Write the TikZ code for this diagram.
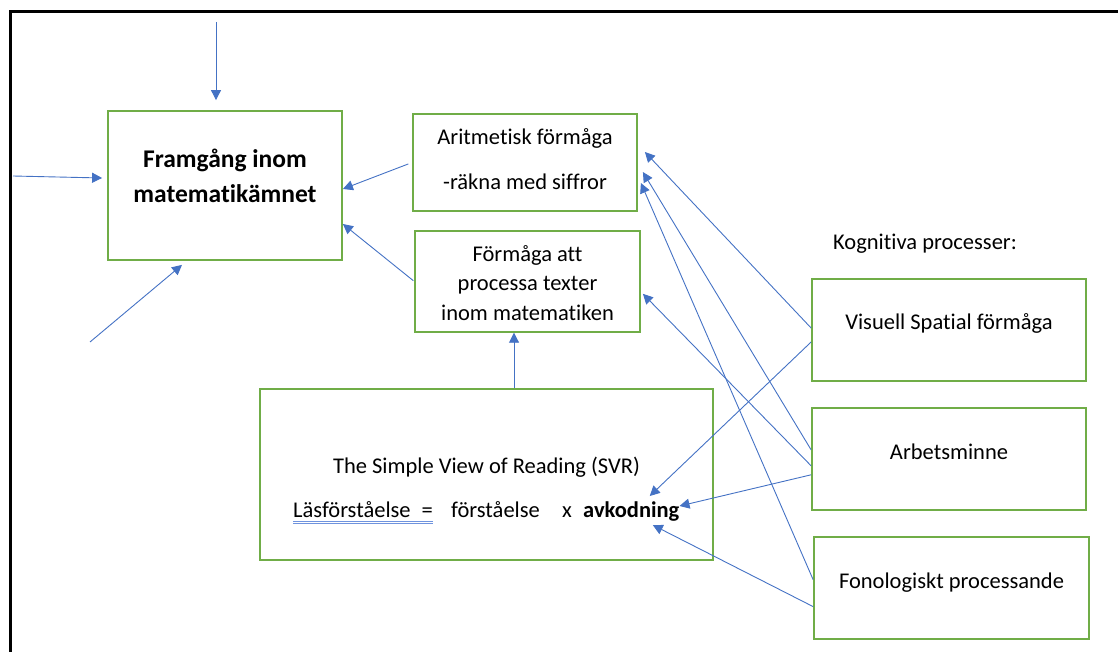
\documentclass[tikz,border=0pt]{standalone}
\usepackage{fontspec}
\setmainfont{Carlito}[Ligatures=NoCommon]
\usepackage{xcolor}
\usetikzlibrary{positioning, arrows.meta}

\definecolor{boxgreen}{HTML}{70AD47}
\definecolor{linkblue}{HTML}{4472C4}
\definecolor{spellblue}{HTML}{6F93DE}

\begin{document}
\begin{tikzpicture}[x=1pt, y=-1pt,
            block/.style={rectangle, draw=boxgreen, line width=1.8pt},
            txt/.style={font=\fontsize{22.5}{29.5}\selectfont, align=center, inner sep=0pt, anchor=base},
            headline/.style={font=\fontsize{25.5}{35}\selectfont\bfseries, align=center, inner sep=0pt, anchor=base},
            arrow/.style={-{Triangle[length=10pt,width=10pt]}, draw=linkblue, line width=0.9pt}
        ]
            \useasboundingbox (0,0) rectangle (1118,652);
            \draw[line width=3pt] (10,652) -- (10,12) -- (1118,12);

            % boxes
            \node[block, minimum width=234pt, minimum height=149pt] (goal) at (225,185.5) {};
            \node[block, minimum width=224pt, minimum height=97pt] (arit) at (525,162.5) {};
            \node[block, minimum width=225pt, minimum height=101pt, below=18pt of arit, xshift=2.5pt] (proc) {};
            \node[block, minimum width=453pt, minimum height=171pt] (svr) at (486.5,474.5) {};
            \node[block, minimum width=274pt, minimum height=102pt] (vis) at (949,330) {};
            \node[block, minimum width=274pt, minimum height=102pt, below=25pt of vis] (arb) {};
            \node[block, minimum width=275pt, minimum height=102pt, below=25pt of arb, xshift=2.5pt] (fon) {};

            % texts (multi-line ones sit on their last baseline)
            \node[headline] (goaltext) at (225,203) {Framgång inom\\matematikämnet};
            \node[txt] (arittext) at (525,190) {Aritmetisk förmåga\\[15.5pt]-räkna med siffror};
            \node[txt] (proctext) at (527.5,320) {Förmåga att\\processa texter\\inom matematiken};
            \node[txt] (svrtext) at (486.5,473) {The Simple View of Reading (SVR)};
            \node[txt, anchor=base west] (lhs) at (293,517) {Läsförståelse\hspace{11pt}=};
            \node[txt, anchor=base west] (rhs) at (451,517) {förståelse};
            \node[txt, anchor=base west] (times) at (562,517) {x};
            \node[txt, anchor=base west, font=\fontsize{22.5}{29.5}\selectfont\bfseries] (avk) at (583,517) {avkodning};
            \node[txt] (kog) at (925,250) {Kognitiva processer:};
            \node[txt] (vistext) at (949,329) {Visuell Spatial förmåga};
            \node[txt] (arbtext) at (949,459) {Arbetsminne};
            \node[txt] (fontext) at (951.5,588) {Fonologiskt processande};

            \draw[spellblue, line width=0.8pt] ([yshift=-4pt]lhs.base west) -- ([yshift=-4pt]lhs.base east);
            \draw[spellblue, line width=0.8pt] ([yshift=-6.5pt]lhs.base west) -- ([yshift=-6.5pt]lhs.base east);

            % free ends on the left
            \coordinate (topin) at (216,22);
            \coordinate (leftin) at (13,176);
            \coordinate (lowin) at (90,342);

            \draw[arrow] (topin) -- ([xshift=-9pt,yshift=10pt]goal.north);
            \draw[arrow] (leftin) -- ([xshift=-5pt,yshift=7.5pt]goal.west);
            \draw[arrow] (lowin) -- ([xshift=-43pt,yshift=-4pt]goal.south);
            \draw[arrow, shorten <=4pt] (arit.west) -- ([yshift=-3.5pt]goal.east);
            \draw[arrow, shorten <=1pt] (proc.west) -- ([yshift=-38.5pt]goal.east);
            \draw[arrow] ([xshift=27.5pt]svr.north) -- ([xshift=-13.5pt]proc.south);

            % cognitive processes
            \draw[arrow] ([yshift=2pt]vis.west) -- ([xshift=7pt,yshift=10.5pt]arit.east);
            \draw[arrow] ([yshift=9pt]arb.west) -- ([xshift=5pt,yshift=-9.5pt]arit.east);
            \draw[arrow] ([yshift=8pt]fon.west) -- ([xshift=3pt,yshift=-20.5pt]arit.east);
            \draw[arrow] ([yshift=-7pt]arb.west) -- ([xshift=2pt,yshift=-12.5pt]proc.east);
            \draw[arrow] ([yshift=-12pt]vis.west) -- ([xshift=18.5pt,yshift=5pt]avk.north);
            \draw[arrow] ([yshift=-16pt]arb.west) -- ([yshift=5pt]avk.east);
            \draw[arrow] ([yshift=-19pt]fon.west) -- ([xshift=21.5pt,yshift=-4pt]avk.south);

        \end{tikzpicture}
\end{document}
